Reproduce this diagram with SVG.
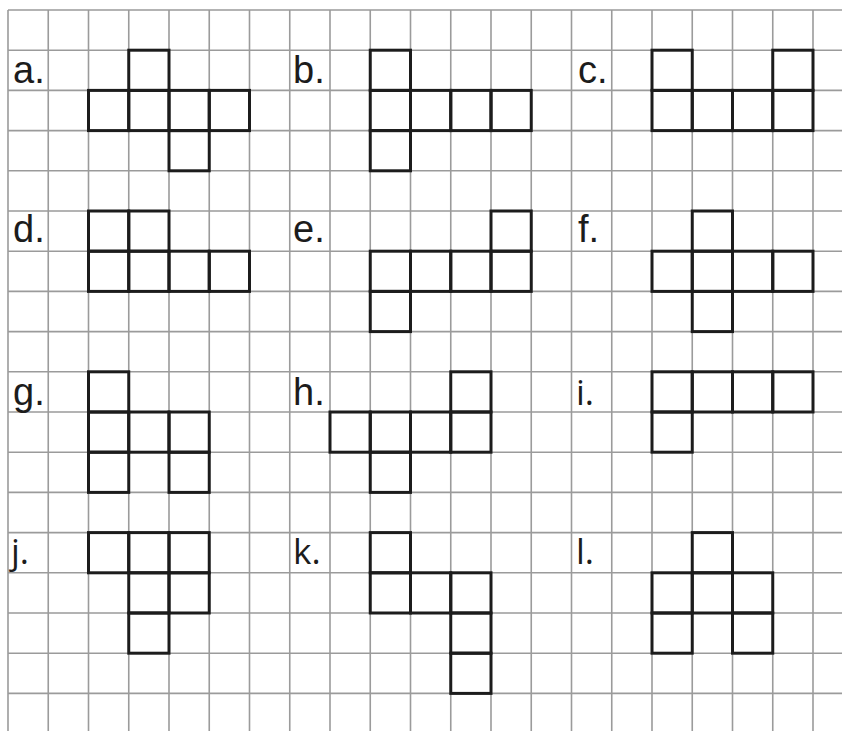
<svg xmlns="http://www.w3.org/2000/svg" width="842" height="731" viewBox="0 0 842 731">
<style>
.g{stroke:#9b9b9b;stroke-width:1.6;fill:none}
.c{fill:none;stroke:#1c1c1c;stroke-width:3}
.l{font-family:"Liberation Sans",Arial,sans-serif;font-size:38px;fill:#1c1c1c}
.m{font-family:"Open Sans","Liberation Sans",sans-serif;font-size:35px;fill:#1c1c1c}
</style>
<rect width="842" height="731" fill="#fff"/>
<g id="grid" class="g">
<path d="M8,10V731M48.25,10V731M88.5,10V731M128.75,10V731M169,10V731M209.25,10V731M249.5,10V731M289.75,10V731M330,10V731M370.25,10V731M410.5,10V731M450.75,10V731M491,10V731M531.25,10V731M571.5,10V731M611.75,10V731M652,10V731M692.25,10V731M732.5,10V731M772.75,10V731M813,10V731"/>
<path d="M8,10H842M8,50.2H842M8,90.4H842M8,130.6H842M8,170.8H842M8,211H842M8,251.2H842M8,291.4H842M8,331.6H842M8,371.8H842M8,412H842M8,452.2H842M8,492.4H842M8,532.6H842M8,572.8H842M8,613H842M8,653.2H842M8,693.4H842"/>
</g>
<defs><rect id="s" width="40.25" height="40.2" class="c"/></defs>
<g id="a">
<text class="l" x="13" y="83">a.</text>
<use href="#s" x="128.75" y="50.2"/>
<use href="#s" x="88.5" y="90.4"/><use href="#s" x="128.75" y="90.4"/><use href="#s" x="169" y="90.4"/><use href="#s" x="209.25" y="90.4"/>
<use href="#s" x="169" y="130.6"/>
</g>
<g id="b">
<text class="l" x="293" y="83">b.</text>
<use href="#s" x="370.25" y="50.2"/>
<use href="#s" x="370.25" y="90.4"/><use href="#s" x="410.5" y="90.4"/><use href="#s" x="450.75" y="90.4"/><use href="#s" x="491" y="90.4"/>
<use href="#s" x="370.25" y="130.6"/>
</g>
<g id="c">
<text class="l" x="578" y="83">c.</text>
<use href="#s" x="652" y="50.2"/><use href="#s" x="772.75" y="50.2"/>
<use href="#s" x="652" y="90.4"/><use href="#s" x="692.25" y="90.4"/><use href="#s" x="732.5" y="90.4"/><use href="#s" x="772.75" y="90.4"/>
</g>
<g id="d">
<text class="l" x="13" y="242">d.</text>
<use href="#s" x="88.5" y="211"/><use href="#s" x="128.75" y="211"/>
<use href="#s" x="88.5" y="251.2"/><use href="#s" x="128.75" y="251.2"/><use href="#s" x="169" y="251.2"/><use href="#s" x="209.25" y="251.2"/>
</g>
<g id="e">
<text class="l" x="293" y="242">e.</text>
<use href="#s" x="491" y="211"/>
<use href="#s" x="370.25" y="251.2"/><use href="#s" x="410.5" y="251.2"/><use href="#s" x="450.75" y="251.2"/><use href="#s" x="491" y="251.2"/>
<use href="#s" x="370.25" y="291.4"/>
</g>
<g id="f">
<text class="l" x="578" y="242">f.</text>
<use href="#s" x="692.25" y="211"/>
<use href="#s" x="652" y="251.2"/><use href="#s" x="692.25" y="251.2"/><use href="#s" x="732.5" y="251.2"/><use href="#s" x="772.75" y="251.2"/>
<use href="#s" x="692.25" y="291.4"/>
</g>
<g id="g">
<text class="l" x="13" y="405">g.</text>
<use href="#s" x="88.5" y="371.8"/>
<use href="#s" x="88.5" y="412"/><use href="#s" x="128.75" y="412"/><use href="#s" x="169" y="412"/>
<use href="#s" x="88.5" y="452.2"/><use href="#s" x="169" y="452.2"/>
</g>
<g id="h">
<text class="l" x="293" y="405">h.</text>
<use href="#s" x="450.75" y="371.8"/>
<use href="#s" x="330" y="412"/><use href="#s" x="370.25" y="412"/><use href="#s" x="410.5" y="412"/><use href="#s" x="450.75" y="412"/>
<use href="#s" x="370.25" y="452.2"/>
</g>
<g id="i">
<text class="m" x="576" y="405">i.</text>
<use href="#s" x="652" y="371.8"/><use href="#s" x="692.25" y="371.8"/><use href="#s" x="732.5" y="371.8"/><use href="#s" x="772.75" y="371.8"/>
<use href="#s" x="652" y="412"/>
</g>
<g id="j">
<text class="m" x="11" y="564">j.</text>
<use href="#s" x="88.5" y="532.6"/><use href="#s" x="128.75" y="532.6"/><use href="#s" x="169" y="532.6"/>
<use href="#s" x="128.75" y="572.8"/><use href="#s" x="169" y="572.8"/>
<use href="#s" x="128.75" y="613"/>
</g>
<g id="k">
<text class="m" x="293" y="564">k.</text>
<use href="#s" x="370.25" y="532.6"/>
<use href="#s" x="370.25" y="572.8"/><use href="#s" x="410.5" y="572.8"/><use href="#s" x="450.75" y="572.8"/>
<use href="#s" x="450.75" y="613"/>
<use href="#s" x="450.75" y="653.2"/>
</g>
<g id="l">
<text class="m" x="576" y="564">l.</text>
<use href="#s" x="692.25" y="532.6"/>
<use href="#s" x="652" y="572.8"/><use href="#s" x="692.25" y="572.8"/><use href="#s" x="732.5" y="572.8"/>
<use href="#s" x="652" y="613"/><use href="#s" x="732.5" y="613"/>
</g>
</svg>
